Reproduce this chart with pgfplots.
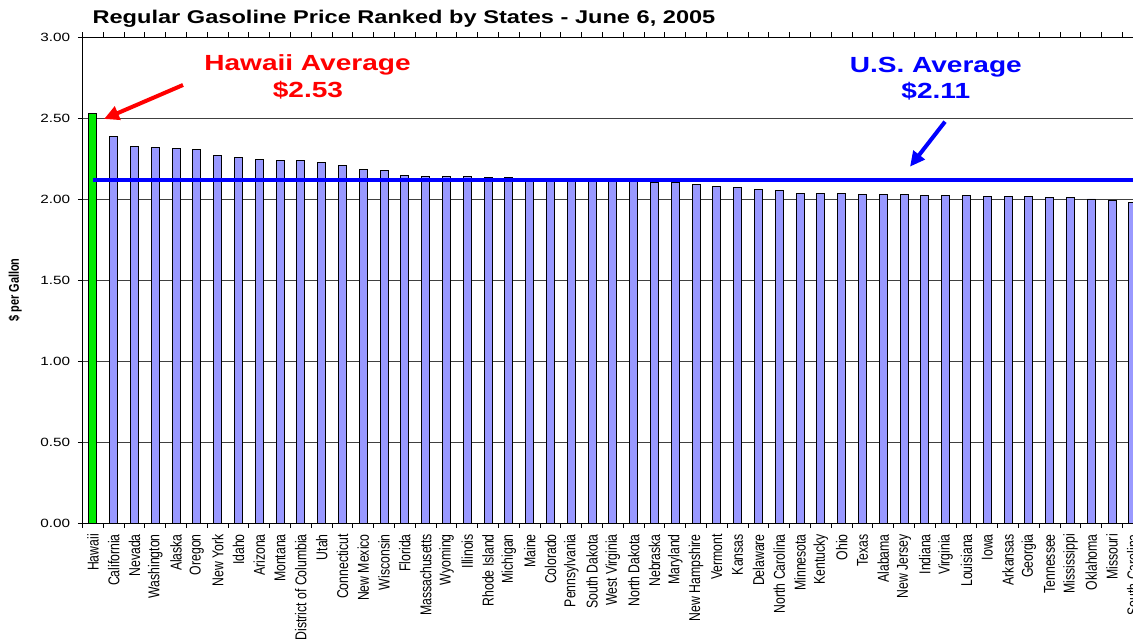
\documentclass[border=0pt]{standalone}
\usepackage{pgfplots}
\pgfplotsset{compat=1.18}
\usetikzlibrary{arrows.meta}
\usepackage{fontspec}
\setmainfont{Liberation Sans}
\definecolor{barblue}{RGB}{153,153,255}
\definecolor{hgreen}{RGB}{0,235,0}
\definecolor{avgblue}{RGB}{0,0,255}
\definecolor{avgred}{RGB}{255,0,0}
\begin{document}
\begin{tikzpicture}
\path[use as bounding box, clip] (0,0) rectangle (1133bp,641bp);
\begin{axis}[
  at={(82.5bp,118bp)}, anchor=south west,
  scale only axis, width=1060.8bp, height=486bp,
  xmin=-0.5, xmax=50.5, ymin=0, ymax=3,
  axis line style={black, line width=0.9bp},
  ytick={0,0.5,1,1.5,2,2.5,3},
  ymajorgrids,
  major grid style={black!75, line width=0.8bp},
  tick align=outside,
  major tick length=4.5bp,
  tick style={black, line width=0.8bp},
  yticklabel style={/pgf/number format/fixed, /pgf/number format/fixed zerofill,
    /pgf/number format/precision=2, /pgf/number format/assume math mode=true,
    font=\fontsize{12}{13}\selectfont, xscale=1.28, anchor=east, inner sep=0pt, xshift=-6bp},
  xtick={-0.5,0.5,...,50.5},
  xticklabels={},
  extra x ticks={0,1,...,50},
  extra x tick style={major tick length=0pt, grid=none,
    tick label style={yshift=-11bp, rotate=90, yscale=1.28, anchor=east, inner sep=0pt,
      font=\fontsize{12.3}{14}\selectfont}},
  extra x tick labels={Hawaii, California, Nevada, Washington, Alaska, Oregon, New York, Idaho, Arizona, Montana, District of Columbia, Utah, Connecticut, New Mexico, Wisconsin, Florida, Massachusetts, Wyoming, Illinois, Rhode Island, Michigan, Maine, Colorado, Pennsylvania, South Dakota, West Virginia, North Dakota, Nebraska, Maryland, New Hampshire, Vermont, Kansas, Delaware, North Carolina, Minnesota, Kentucky, Ohio, Texas, Alabama, New Jersey, Indiana, Virginia, Louisiana, Iowa, Arkansas, Georgia, Tennessee, Mississippi, Oklahoma, Missouri, South Carolina},
]
\addplot[ybar, bar width=8bp, bar shift=0pt, fill=hgreen, draw=black, line width=0.9bp]
  coordinates {(0,2.53)};
\addplot[ybar, bar width=8bp, bar shift=0pt, fill=barblue, draw=black, line width=0.9bp]
  coordinates {
  (1,2.385) (2,2.326) (3,2.318) (4,2.310) (5,2.303) (6,2.267) (7,2.255) (8,2.246) (9,2.238) (10,2.238)
  (11,2.224) (12,2.209) (13,2.181) (14,2.174) (15,2.146) (16,2.137) (17,2.137) (18,2.137) (19,2.131) (20,2.131)
  (21,2.125) (22,2.125) (23,2.120) (24,2.120) (25,2.118) (26,2.115) (27,2.103) (28,2.103) (29,2.088) (30,2.080)
  (31,2.074) (32,2.061) (33,2.055) (34,2.035) (35,2.035) (36,2.035) (37,2.029) (38,2.029) (39,2.029) (40,2.021)
  (41,2.021) (42,2.021) (43,2.014) (44,2.014) (45,2.014) (46,2.008) (47,2.008) (48,2.000) (49,1.992) (50,1.980)
  };
\addplot[avgblue, line width=3.8bp] coordinates {(0,2.116) (51,2.116)};
\end{axis}
% title and labels
\node[anchor=base, font=\bfseries\fontsize{18.5}{20}\selectfont, xscale=1.28] at (404bp,617bp)
  {Regular Gasoline Price Ranked by States - June 6, 2005};
\node[rotate=90, yscale=1.28, font=\bfseries\fontsize{11}{13}\selectfont] at (15bp,351bp) {\$ per Gallon};
% annotations
\node[anchor=base, text=avgred, font=\bfseries\fontsize{22}{24}\selectfont, xscale=1.28] at (307.5bp,570.3bp) {Hawaii Average};
\node[anchor=base, text=avgred, font=\bfseries\fontsize{22}{24}\selectfont, xscale=1.28] at (308bp,543.7bp) {\$2.53};
\node[anchor=base, text=avgblue, font=\bfseries\fontsize{22}{24}\selectfont, xscale=1.28] at (935.8bp,568.3bp) {U.S. Average};
\node[anchor=base, text=avgblue, font=\bfseries\fontsize{22}{24}\selectfont, xscale=1.28] at (935.8bp,542bp) {\$2.11};
\draw[avgred, line width=4bp, -{Triangle[length=15bp,width=14bp]}] (183bp,556bp) -- (104bp,522bp);
\draw[avgblue, line width=4bp, -{Triangle[length=15bp,width=14bp]}] (945bp,519.3bp) -- (910bp,474.3bp);
\end{tikzpicture}
\end{document}
